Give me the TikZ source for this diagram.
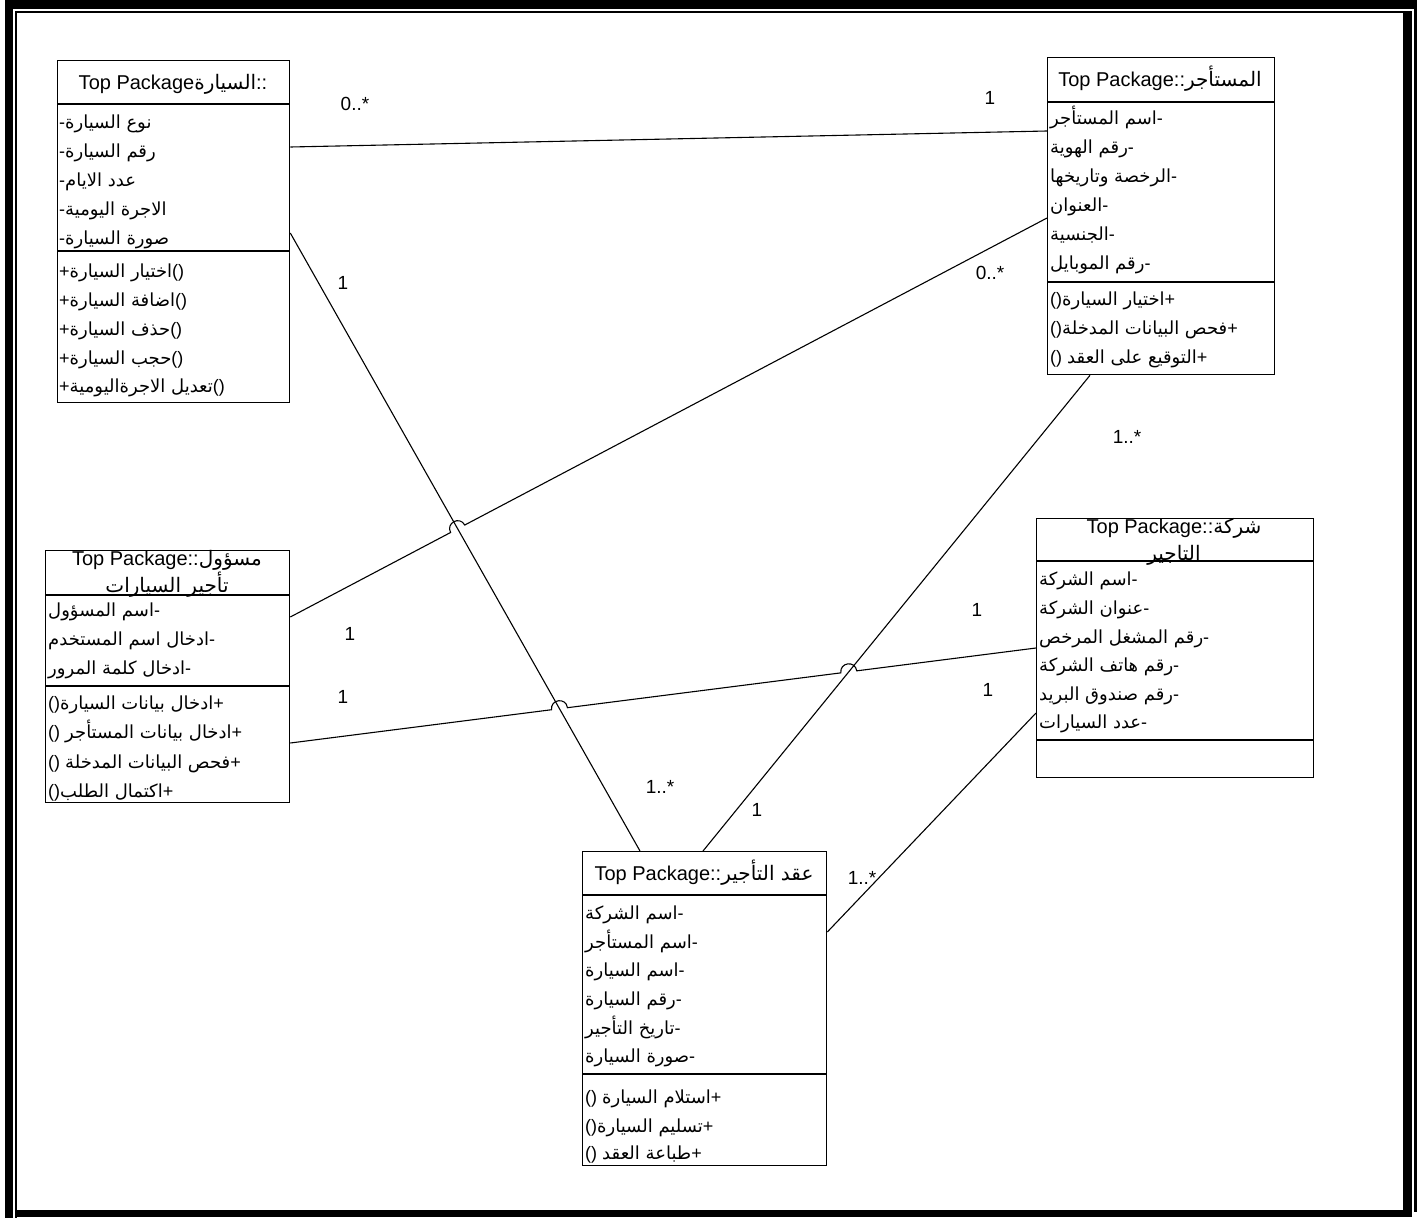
\documentclass[tikz,border=0pt]{standalone}
\usepackage{fontspec}
\setmainfont{Liberation Sans}
\newfontfamily\arabicfont[Script=Arabic,Scale=1.0]{DejaVu Sans}
\TeXXeTstate=1
% Arabic run, set right to left
\newcommand\ar[1]{{\arabicfont\beginR #1\endR}}
\usetikzlibrary{calc,intersections}

\begin{document}
\begin{tikzpicture}[x=1pt,y=-1pt,
  classbox/.style={draw, line width=1.3pt, inner sep=0pt, anchor=north west},
  sepline/.style={line width=1.3pt},
  row/.style={anchor=base west, inner sep=0pt, font=\fontsize{18}{20}\selectfont},
  ttl/.style={anchor=base, inner sep=0pt, font=\fontsize{20}{27}\selectfont, align=center},
  mult/.style={inner sep=0pt, font=\fontsize{19}{20}\selectfont},
  assoc/.style={line width=1.1pt},
]
\useasboundingbox (0,0) rectangle (1421,1218);

% double page frame
\fill (5,0) rectangle (1417,9);
\fill (5,0) rectangle (13,1218);
\fill (15,11) rectangle (1403,13);
\fill (15,11) rectangle (17,1218);
\fill (1403,11) rectangle (1412,1217);
\fill (15,1210) rectangle (1412,1217);
\fill (1414,0) rectangle (1417,1212);

% ---------- class: car ----------
\node[classbox, minimum width=232pt, minimum height=342pt] (car) at (57,60) {};
\draw[sepline] (57,104) -- (289,104);
\draw[sepline] (57,251) -- (289,251);
\node[ttl] (car-t) at (173,89) {Top Package\ar{السيارة}::};
\node[row] (car-a1) at (59,128) {-\ar{نوع السيارة}};
\node[row] (car-a2) at (59,157) {-\ar{رقم السيارة}};
\node[row] (car-a3) at (59,186) {-\ar{عدد الايام}};
\node[row] (car-a4) at (59,215) {-\ar{الاجرة اليومية}};
\node[row] (car-a5) at (59,244) {-\ar{صورة السيارة}};
\node[row] (car-m1) at (59,277) {+\ar{اختيار السيارة}()};
\node[row] (car-m2) at (59,306) {+\ar{اضافة السيارة}()};
\node[row] (car-m3) at (59,335) {+\ar{حذف السيارة}()};
\node[row] (car-m4) at (59,364) {+\ar{حجب السيارة}()};
\node[row] (car-m5) at (59,392) {+\ar{تعديل الاجرةاليومية}()};

% ---------- class: renter ----------
\node[classbox, minimum width=227pt, minimum height=317pt] (renter) at (1047,57) {};
\draw[sepline] (1047,102) -- (1274,102);
\draw[sepline] (1047,282) -- (1274,282);
\node[ttl] (ren-t) at (1160,86) {Top Package::\ar{المستأجر}};
\node[row] (ren-a1) at (1050,124) {\ar{اسم المستأجر}-};
\node[row] (ren-a2) at (1050,153) {\ar{رقم الهوية}-};
\node[row] (ren-a3) at (1050,182) {\ar{الرخصة وتاريخها}-};
\node[row] (ren-a4) at (1050,211) {\ar{العنوان}-};
\node[row] (ren-a5) at (1050,240) {\ar{الجنسية}-};
\node[row] (ren-a6) at (1050,269) {\ar{رقم الموبايل}-};
\node[row] (ren-m1) at (1050,305) {()\ar{اختيار السيارة}+};
\node[row] (ren-m2) at (1050,334) {()\ar{فحص البيانات المدخلة}+};
\node[row] (ren-m3) at (1050,363) {() \ar{التوقيع على العقد}+};

% ---------- class: rental administrator ----------
\node[classbox, minimum width=244pt, minimum height=252pt] (admin) at (45,550) {};
\draw[sepline] (45,595) -- (289,595);
\draw[sepline] (45,686) -- (289,686);
\node[ttl] (adm-t) at (167,592) {Top Package::\ar{مسؤول}\\\ar{تأجير السيارات}};
\node[row] (adm-a1) at (48,616) {\ar{اسم المسؤول}-};
\node[row] (adm-a2) at (48,645) {\ar{ادخال اسم المستخدم}-};
\node[row] (adm-a3) at (48,674) {\ar{ادخال كلمة المرور}-};
\node[row] (adm-m1) at (48,709) {()\ar{ادخال بيانات السيارة}+};
\node[row] (adm-m2) at (48,738) {() \ar{ادخال بيانات المستأجر}+};
\node[row] (adm-m3) at (48,768) {() \ar{فحص البيانات المدخلة}+};
\node[row] (adm-m4) at (48,797) {()\ar{اكتمال الطلب}+};

% ---------- class: rental company ----------
\node[classbox, minimum width=277pt, minimum height=259pt] (company) at (1036,518) {};
\draw[sepline] (1036,561) -- (1313,561);
\draw[sepline] (1036,740) -- (1313,740);
\node[ttl] (com-t) at (1174,560) {Top Package::\ar{شركة}\\\ar{التاجير}};
\node[row] (com-a1) at (1039,585) {\ar{اسم الشركة}-};
\node[row] (com-a2) at (1039,614) {\ar{عنوان الشركة}-};
\node[row] (com-a3) at (1039,643) {\ar{رقم المشغل المرخص}-};
\node[row] (com-a4) at (1039,671) {\ar{رقم هاتف الشركة}-};
\node[row] (com-a5) at (1039,700) {\ar{رقم صندوق البريد}-};
\node[row] (com-a6) at (1039,728) {\ar{عدد السيارات}-};

% ---------- class: rental contract ----------
\node[classbox, minimum width=244pt, minimum height=314pt] (contract) at (582,851) {};
\draw[sepline] (582,895) -- (826,895);
\draw[sepline] (582,1074) -- (826,1074);
\node[ttl] (con-t) at (704,880) {Top Package::\ar{عقد التأجير}};
\node[row] (con-a1) at (585,919) {\ar{اسم الشركة}-};
\node[row] (con-a2) at (585,948) {\ar{اسم المستأجر}-};
\node[row] (con-a3) at (585,976) {\ar{اسم السيارة}-};
\node[row] (con-a4) at (585,1005) {\ar{رقم السيارة}-};
\node[row] (con-a5) at (585,1034) {\ar{تاريخ التأجير}-};
\node[row] (con-a6) at (585,1062) {\ar{صورة السيارة}-};
\node[row] (con-m1) at (585,1103) {() \ar{استلام السيارة}+};
\node[row] (con-m2) at (585,1132) {()\ar{تسليم السيارة}+};
\node[row] (con-m3) at (585,1159) {() \ar{طباعة العقد}+};

% ---------- association end points ----------
\coordinate (carR1) at ($(car.north east)+(0,87)$);
\coordinate (carR2) at ($(car.north east)+(0,173)$);
\coordinate (renL1) at ($(renter.north west)+(0,74)$);
\coordinate (renL2) at ($(renter.north west)+(0,161)$);
\coordinate (renB)  at ($(renter.south west)+(43,0)$);
\coordinate (admR1) at ($(admin.north east)+(0,67)$);
\coordinate (admR2) at ($(admin.north east)+(0,193)$);
\coordinate (comL1) at ($(company.north west)+(0,130)$);
\coordinate (comL2) at ($(company.north west)+(0,195)$);
\coordinate (conT1) at ($(contract.north west)+(58,0)$);
\coordinate (conT2) at ($(contract.north west)+(121,0)$);
\coordinate (conR)  at ($(contract.north east)+(0,81)$);

% crossings that get a line hop
\path[name path=pCarCon] (carR2) -- (conT1);
\path[name path=pRenCon] (renB) -- (conT2);
\path[name path=pAdmRen] (admR1) -- (renL2);
\path[name path=pAdmCom] (admR2) -- (comL1);
\path[name intersections={of=pAdmRen and pCarCon, by=xA}];
\path[name intersections={of=pAdmCom and pCarCon, by=xB}];
\path[name intersections={of=pAdmCom and pRenCon, by=xC}];
\coordinate (xA1) at ($(xA)!8pt!(admR1)$);
\coordinate (xA2) at ($(xA)!8pt!(renL2)$);
\coordinate (xB1) at ($(xB)!8pt!(admR2)$);
\coordinate (xB2) at ($(xB)!8pt!(comL1)$);
\coordinate (xC1) at ($(xC)!8pt!(admR2)$);
\coordinate (xC2) at ($(xC)!8pt!(comL1)$);

% ---------- associations ----------
\draw[assoc] (carR1) -- (renL1);
\draw[assoc] (carR2) -- (conT1);
\draw[assoc] (renB) -- (conT2);
\draw[assoc] (comL2) -- (conR);
\draw[assoc] (admR1) -- (xA1)
  .. controls ($(xA1)!10.7pt!90:(xA)$) and ($(xA2)!10.7pt!-90:(xA)$) .. (xA2) -- (renL2);
\draw[assoc] (admR2) -- (xB1)
  .. controls ($(xB1)!10.7pt!90:(xB)$) and ($(xB2)!10.7pt!-90:(xB)$) .. (xB2) -- (xC1)
  .. controls ($(xC1)!10.7pt!90:(xC)$) and ($(xC2)!10.7pt!-90:(xC)$) .. (xC2) -- (comL1);

% ---------- multiplicities ----------
\node[mult] (m1) at (355,104) {0..*};
\node[mult] (m2) at (990,98) {1};
\node[mult] (m3) at (343,283) {1};
\node[mult] (m4) at (990,273) {0..*};
\node[mult] (m5) at (1127,437) {1..*};
\node[mult] (m6) at (350,634) {1};
\node[mult] (m7) at (977,610) {1};
\node[mult] (m8) at (343,697) {1};
\node[mult] (m9) at (988,690) {1};
\node[mult] (m10) at (660,787) {1..*};
\node[mult] (m11) at (757,810) {1};
\node[mult] (m12) at (862,878) {1..*};
\end{tikzpicture}
\end{document}
